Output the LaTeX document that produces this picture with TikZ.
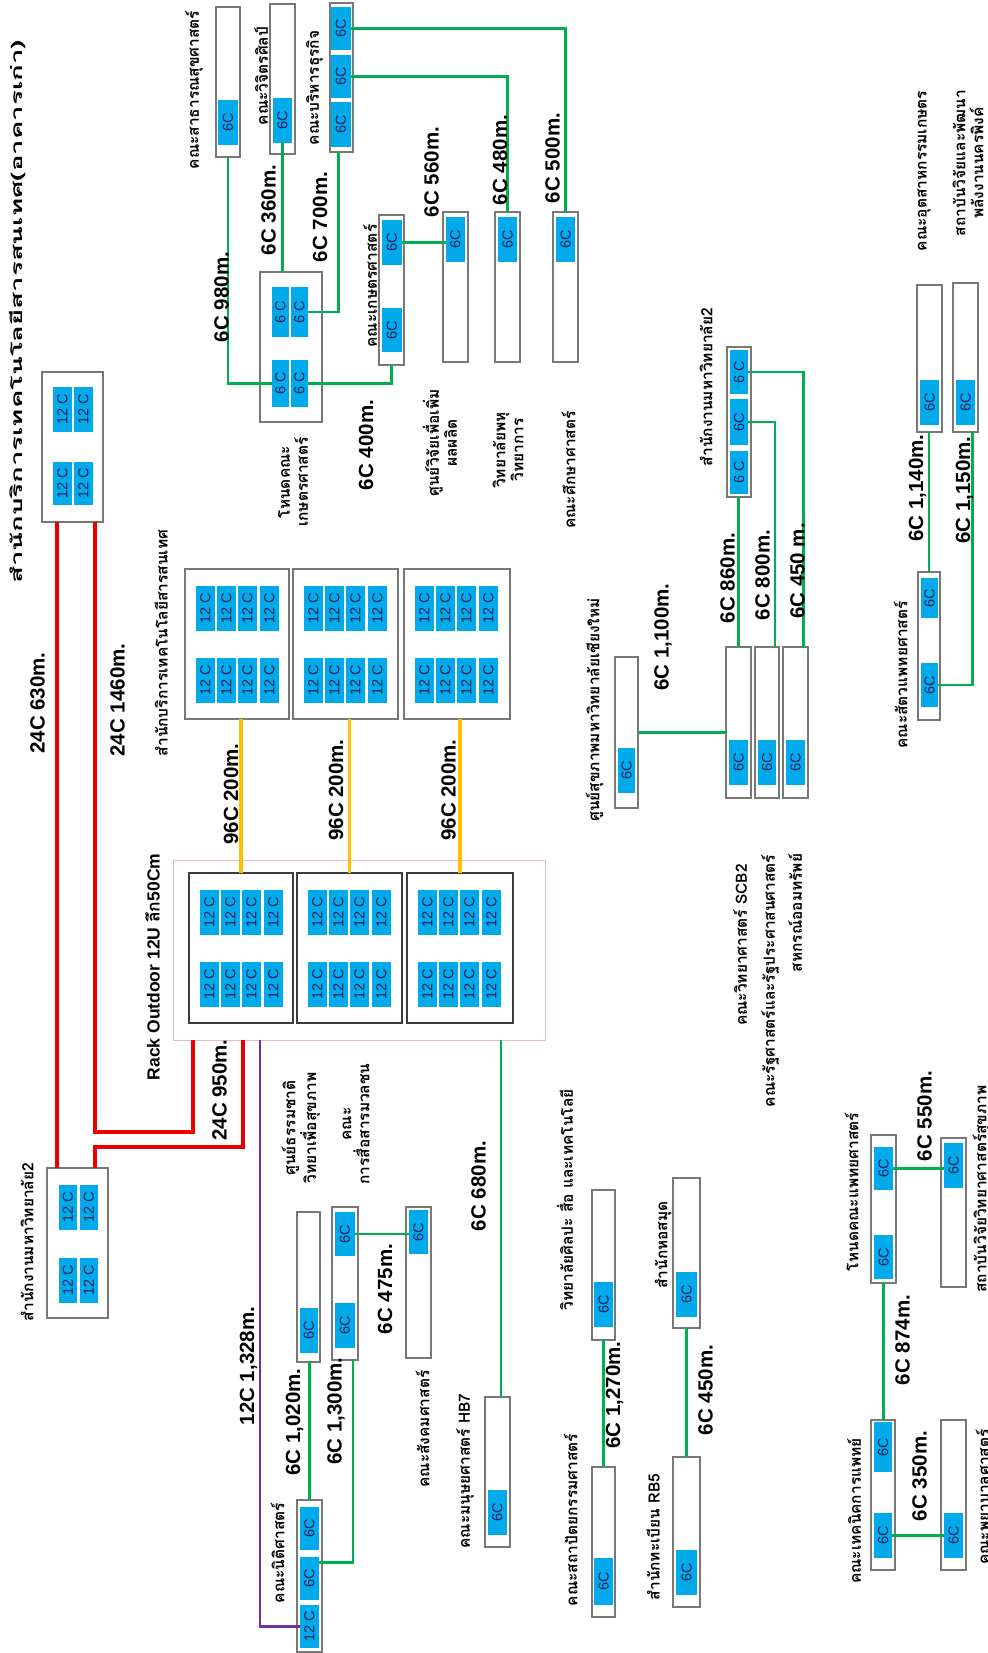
\documentclass[tikz,border=0pt]{standalone}
\usepackage{fontspec}
\setmainfont{Liberation Sans}
\newfontfamily\thaif[Script=Thai]{Loma}
\usepackage{graphicx}
\definecolor{cellblue}{RGB}{0,170,235}
\definecolor{navy}{RGB}{25,35,90}
\definecolor{boxgray}{RGB}{120,120,120}
\definecolor{rackgray}{RGB}{60,60,60}
\definecolor{pinkb}{RGB}{240,185,195}
\definecolor{fgreen}{RGB}{0,176,80}
\definecolor{fred}{RGB}{235,0,0}
\definecolor{fyellow}{RGB}{255,192,0}
\definecolor{fpurple}{RGB}{112,48,160}
\newcommand\bx[6][box]{\node[#1,minimum width={(#5)-(#3)},minimum height={(#6)-(#4)}] (#2) at ({((#3)+(#5))/2},{((#4)+(#6))/2}) {};}
\newcommand\cl[6]{\node[cellbox,minimum width={(#4)-(#2)},minimum height={(#5)-(#3)}] (#1) at ({((#2)+(#4))/2},{((#3)+(#5))/2}) {\rotatebox{90}{#6}};}
\newcommand\rk[5]{%
  \bx[#1]{#2}{#3}{#4}{#5}{#4+150}
  \foreach \i/\dx in {1/11,2/32,3/53,4/75}{
    \cl{#2-a\i}{#3+\dx}{#4+17}{#3+\dx+19}{#4+62}{12 C}
    \cl{#2-b\i}{#3+\dx}{#4+89}{#3+\dx+19}{#4+134}{12 C}
  }}
\begin{document}
\begin{tikzpicture}[x=1pt,y=-1pt,
  box/.style={draw=boxgray,fill=white,line width=1.1pt,inner sep=0,outer sep=0},
  itsbox/.style={draw=boxgray,fill=white,line width=1.3pt,inner sep=0,outer sep=0},
  rackin/.style={draw=rackgray,fill=white,line width=1.6pt,inner sep=0,outer sep=0},
  rackout/.style={draw=pinkb,line width=1pt,inner sep=0,outer sep=0},
  cellbox/.style={fill=cellblue,draw=none,inner sep=0,outer sep=0,text=navy,font=\fontsize{14.5}{14.5}\selectfont},
  gline/.style={draw=fgreen,line width=2.6pt},
  rline/.style={draw=fred,line width=4pt},
  yline/.style={draw=fyellow,line width=3.5pt},
  pline/.style={draw=fpurple,line width=2.4pt},
  lab/.style={rotate=90,inner sep=0,font=\bfseries\fontsize{20.5}{22}\selectfont},
  thl/.style={rotate=90,inner sep=0,align=center,font=\thaif\bfseries\fontsize{15.5}{18}\selectfont}]
\useasboundingbox[fill=white] (0,0) rectangle (987,1653);

% ---------- top group ----------
\bx{A}{216}{7}{240}{157} \cl{A1}{218}{100}{238}{145}{6C}
\bx{B}{270}{4}{295}{154} \cl{B1}{273}{98}{292}{143}{6C}
\bx{C}{330}{3}{353}{152}
\cl{C1}{331}{7}{351}{50}{6C} \cl{C2}{331}{55}{351}{98}{6C} \cl{C3}{331}{102}{351}{147}{6C}
\bx{D}{260}{272}{322}{422}
\cl{D1}{272}{287}{289}{337}{6 C} \cl{D2}{291}{287}{308}{337}{6 C}
\cl{D3}{272}{360}{289}{407}{6 C} \cl{D4}{291}{360}{308}{407}{6 C}
\bx{E}{379}{215}{404}{365} \cl{E1}{382}{220}{402}{265}{6C} \cl{E2}{382}{308}{402}{352}{6C}
\bx{F}{443}{212}{468}{362} \cl{F1}{446}{217}{465}{262}{6C}
\bx{G}{495}{212}{520}{362} \cl{G1}{498}{217}{517}{262}{6C}
\bx{H}{553}{212}{578}{362} \cl{H1}{556}{217}{575}{262}{6C}

% ---------- left old ITS and office ----------
\bx{I}{42}{372}{103}{522}
\cl{I1}{53}{387}{72}{432}{12 C} \cl{I2}{74}{387}{93}{432}{12 C}
\cl{I3}{53}{462}{72}{505}{12 C} \cl{I4}{74}{462}{93}{505}{12 C}
\bx{J}{47}{1168}{108}{1318}
\cl{J1}{59}{1185}{77}{1230}{12 C} \cl{J2}{80}{1185}{98}{1230}{12 C}
\cl{J3}{59}{1258}{77}{1303}{12 C} \cl{J4}{80}{1258}{98}{1303}{12 C}

% ---------- rack ----------
\bx[rackout]{RK}{173}{860}{545}{1040}
\rk{rackin}{R1}{189}{873}{293}
\rk{rackin}{R2}{297}{873}{402}
\rk{rackin}{R3}{407}{873}{513}
\rk{itsbox}{U1}{185}{569}{289}
\rk{itsbox}{U2}{293}{569}{398}
\rk{itsbox}{U3}{404}{569}{510}

% ---------- lower left ----------
\bx{K}{297}{1500}{322}{1652}
\cl{K1}{300}{1507}{319}{1550}{6C} \cl{K2}{300}{1557}{319}{1600}{6C} \cl{K3}{300}{1605}{319}{1648}{12 C}
\bx{L}{297}{1212}{320}{1362} \cl{L1}{300}{1308}{318}{1353}{6C}
\bx{M}{332}{1207}{358}{1360} \cl{M1}{335}{1212}{355}{1256}{6C} \cl{M2}{335}{1303}{355}{1348}{6C}
\bx{N}{406}{1207}{431}{1358} \cl{N1}{409}{1210}{428}{1254}{6C}
\bx{O}{485}{1397}{510}{1547} \cl{O1}{488}{1490}{507}{1535}{6C}
\bx{P}{592}{1190}{615}{1340} \cl{P1}{594}{1282}{613}{1327}{6C}
\bx{Q}{592}{1467}{615}{1617} \cl{Q1}{594}{1558}{613}{1605}{6C}
\bx{LB}{673}{1178}{700}{1328} \cl{LB1}{676}{1272}{697}{1317}{6C}
\bx{RG}{673}{1457}{700}{1607} \cl{RG1}{676}{1550}{697}{1595}{6C}

% ---------- middle right ----------
\bx{T}{615}{657}{638}{808} \cl{T1}{618}{748}{635}{793}{6C}
\bx{SC}{726}{647}{751}{798} \cl{SC1}{729}{740}{748}{785}{6C}
\bx{PO}{755}{647}{779}{798} \cl{PO1}{758}{740}{776}{785}{6C}
\bx{CO}{783}{647}{808}{798} \cl{CO1}{786}{740}{805}{785}{6C}
\bx{X}{727}{347}{751}{497}
\cl{X1}{730}{350}{748}{394}{6 C} \cl{X2}{730}{399}{748}{445}{6C} \cl{X3}{730}{451}{748}{494}{6 C}
\bx{Y}{918}{572}{940}{720} \cl{Y1}{921}{578}{938}{618}{6C} \cl{Y2}{921}{663}{938}{707}{6C}
\bx{Z1}{917}{285}{942}{432} \cl{Z1a}{920}{380}{939}{425}{6C}
\bx{Z2}{953}{283}{978}{432} \cl{Z2a}{956}{380}{975}{425}{6C}

% ---------- medical ----------
\bx{CC}{871}{1135}{896}{1283} \cl{CC1}{874}{1147}{893}{1190}{6C} \cl{CC2}{874}{1235}{893}{1279}{6C}
\bx{DD}{941}{1138}{966}{1287} \cl{DD1}{944}{1143}{963}{1188}{6C}
\bx{AA}{871}{1420}{895}{1570} \cl{AA1}{874}{1422}{892}{1472}{6C} \cl{AA2}{874}{1513}{892}{1558}{6C}
\bx{BB}{941}{1420}{966}{1570} \cl{BB1}{944}{1513}{963}{1558}{6C}

% ---------- connectors ----------
\coordinate (cS) at ([xshift=-3pt]C.south);
\draw[gline] (A.south) |- (D3.west);
\draw[gline] (B1.south) -- (B1.south |- D.north);
\draw[gline] (D2.east) -| (cS);
\draw[gline] (D4.east) -| (E.south);
\draw[gline] (E1.east) -- (E1.east -| F1.west);
\draw[gline] (C2.east) -| (G.north);
\draw[gline] (C1.east) -| (H.north);

\coordinate (iA) at ([xshift=15pt]I.south west);
\coordinate (iB) at ([xshift=53pt]I.south west);
\coordinate (jA) at ([xshift=10pt]J.north west);
\coordinate (jB) at ([xshift=48pt]J.north west);
\coordinate (rkA) at ([xshift=20pt]RK.south west);
\coordinate (rkB) at ([xshift=70pt]RK.south west);
\coordinate (rkP) at ([xshift=87pt]RK.south west);
\coordinate (rkO) at ([xshift=-44pt]RK.south east);
\draw[rline] (iA) -- (jA);
\draw[rline] (iB) -- ++(0,610) -| (rkA);
\draw[rline] (jB) -- ++(0,-21) -| (rkB);
\draw[yline] (R1.north) -- (R1.north |- U1.south);
\draw[yline] (R2.north) -- (R2.north |- U2.south);
\draw[yline] (R3.north) -- (R3.north |- U3.south);
\draw[pline] (rkP) |- (K3.west);
\draw[gline] (rkO) -- (rkO |- O.north);

\coordinate (mS) at ([xshift=8pt]M.south);
\coordinate (k2E) at ([yshift=16pt]K2.east);
\draw[gline] (K.north) -- (K.north |- L.south);
\draw[gline] (k2E) -| (mS);
\draw[gline] (M1.east) -- (M1.east -| N1.west);
\draw[gline] (P.south) -- (Q.north);
\draw[gline] (LB.south) -- (RG.north);

\coordinate (poN) at ([xshift=8pt]PO.north);
\coordinate (coN) at ([xshift=8pt]CO.north);
\coordinate (z2S) at ([xshift=7pt]Z2.south);
\draw[gline] (T.east) -- (T.east -| SC.west);
\draw[gline] (SC.north) -- (SC.north |- X.south);
\draw[gline] (poN) |- (X2.east);
\draw[gline] (coN) |- (X1.east);
\draw[gline] (Y.north) -- (Y.north |- Z1.south);
\draw[gline] (Y2.east) -| (z2S);
\draw[gline] (CC1.east) -- (CC1.east -| DD1.west);
\draw[gline] (CC.south) -- (CC.south |- AA.north);
\draw[gline] (AA2.east) -- (AA2.east -| BB1.west);

% ---------- cable labels ----------
\node[lab] (l1) at (221.5,297) {6C 980m.};
\node[lab] (l2) at (268.5,210) {6C 360m.};
\node[lab] (l3) at (320,217) {6C 700m.};
\node[lab] (l4) at (366,445) {6C 400m.};
\node[lab] (l5) at (431.5,172) {6C 560m.};
\node[lab] (l6) at (500,160) {6C 480m.};
\node[lab] (l7) at (552.5,158) {6C 500m.};
\node[lab] (l8) at (37.5,703) {24C 630m.};
\node[lab] (l9) at (117.5,700) {24C 1460m.};
\node[lab] (l10) at (219.5,1090) {24C 950m.};
\node[lab] (l11) at (231,794) {96C 200m.};
\node[lab] (l12) at (336,790) {96C 200m.};
\node[lab] (l13) at (448.5,790) {96C 200m.};
\node[lab,font=\bfseries\fontsize{17.5}{20}\selectfont] (l14) at (152.5,967) {Rack Outdoor 12U {\thaif ลึก}50Cm};
\node[lab] (l15) at (248.5,1366) {12C 1,328m.};
\node[lab] (l16) at (294.5,1422) {6C 1,020m.};
\node[lab] (l17) at (336,1411) {6C 1,300m.};
\node[lab] (l18) at (385,1289) {6C 475m.};
\node[lab] (l19) at (478.5,1186) {6C 680m.};
\node[lab] (l20) at (614.5,1395) {6C 1,270m.};
\node[lab] (l21) at (705.5,1390) {6C 450m.};
\node[lab] (l22) at (663,637) {6C 1,100m.};
\node[lab] (l23) at (727.5,578) {6C 860m.};
\node[lab] (l24) at (762.5,575) {6C 800m.};
\node[lab] (l25) at (797.5,571) {6C 450 m.};
\node[lab] (l26) at (917.5,488) {6C 1,140m.};
\node[lab] (l27) at (964.5,490) {6C 1,150m.};
\node[lab] (l28) at (924.5,1116) {6C 550m.};
\node[lab] (l29) at (902.5,1340) {6C 874m.};
\node[lab] (l30) at (919.5,1476) {6C 350m.};

% ---------- building labels ----------
\node[thl] (t1) at (18,312) {\scalebox{1.78}[1]{สำนักบริการเทคโนโลยีสารสนเทศ(อาคารเก่า)}};
\node[thl] (t2) at (194,90) {คณะสาธารณสุขศาสตร์};
\node[thl] (t3) at (261,76) {คณะวิจิตรศิลป์};
\node[thl] (t4) at (314.5,88) {คณะบริหารธุรกิจ};
\node[thl] (t5) at (293,482) {โหนดคณะ\\เกษตรศาสตร์};
\node[thl] (t6) at (370,286) {คณะเกษตรศาสตร์};
\node[thl] (t7) at (440,443) {ศูนย์วิจัยเพื่อเพิ่ม\\ผลผลิต};
\node[thl] (t8) at (508,450) {วิทยาลัยพหุ\\วิทยาการ};
\node[thl] (t9) at (568.5,470) {คณะศึกษาศาสตร์};
\node[thl] (t10) at (161,643) {สำนักบริการเทคโนโลยีสารสนเทศ};
\node[thl] (t11) at (706,387) {สำนักงานมหาวิทยาลัย2};
\node[thl] (t12) at (924,171) {คณะอุตสาหกรรมเกษตร};
\node[thl] (t13) at (968,163) {สถาบันวิจัยและพัฒนา\\พลังงานนครพิงค์};
\node[thl] (t14) at (594.5,710) {ศูนย์สุขภาพมหาวิทยาลัยเชียงใหม่};
\node[thl] (t15) at (740,945) {คณะวิทยาศาสตร์ SCB2};
\node[thl] (t16) at (770,981) {คณะรัฐศาสตร์และรัฐประศาสนศาสตร์};
\node[thl] (t17) at (795,913) {สหกรณ์ออมทรัพย์};
\node[thl] (t18) at (900.5,675) {คณะสัตวแพทยศาสตร์};
\node[thl] (t19) at (27,1242) {สำนักงานมหาวิทยาลัย2};
\node[thl] (t20) at (301,1128) {ศูนย์ธรรมชาติ\\วิทยาเพื่อสุขภาพ};
\node[thl] (t21) at (356,1124) {คณะ\\การสื่อสารมวลชน};
\node[thl] (t22) at (277.5,1553) {คณะนิติศาสตร์};
\node[thl] (t23) at (422.5,1429) {คณะสังคมศาสตร์};
\node[thl] (t24) at (465,1471) {คณะมนุษยศาสตร์ HB7};
\node[thl] (t25) at (565,1200) {วิทยาลัยศิลปะ สื่อ และเทคโนโลยี};
\node[thl] (t26) at (570.5,1520) {คณะสถาปัตยกรรมศาสตร์};
\node[thl] (t27) at (663,1245) {สำนักหอสมุด};
\node[thl] (t28) at (653,1537) {สำนักทะเบียน RB5};
\node[thl] (t29) at (851.5,1192) {โหนดคณะแพทยศาสตร์};
\node[thl] (t30) at (854,1511) {คณะเทคนิคการแพทย์};
\node[thl] (t31) at (982.5,1497) {คณะพยาบาลศาสตร์};
\node[thl] (t32) at (981.5,1189) {สถาบันวิจัยวิทยาศาสตร์สุขภาพ};
\end{tikzpicture}
\end{document}
